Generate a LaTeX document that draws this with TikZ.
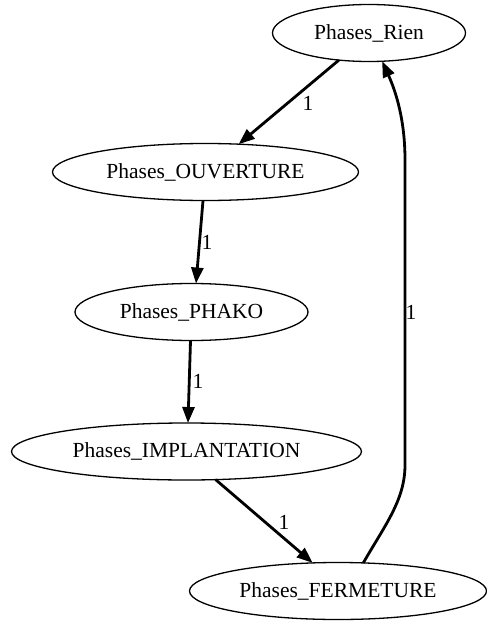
\documentclass[tikz,border=0pt]{standalone}
\usepackage{fontspec}
\setmainfont{Liberation Serif}
\usetikzlibrary{shapes.geometric,arrows.meta}
\begin{document}
\begin{tikzpicture}[x=1pt,y=-1pt,
  state/.style={ellipse,draw,line width=1.3pt,inner sep=0pt,outer sep=0pt,minimum height=57pt,font=\fontsize{21.5}{26}\selectfont},
  edge/.style={line width=2.8pt,-{Triangle[length=16pt,width=12pt]}},
  elabel/.style={font=\fontsize{21.5}{26}\selectfont,inner sep=0pt}]
\useasboundingbox (0,0) rectangle (487,621);
\node[state,minimum width=193pt] (rien) at (369,33) {Phases\_Rien};
\node[state,minimum width=306pt] (ouv) at (205.5,172) {Phases\_OUVERTURE};
\node[state,minimum width=233pt] (phako) at (191.5,312) {Phases\_PHAKO};
\node[state,minimum width=350pt] (impl) at (186.5,451.5) {Phases\_IMPLANTATION};
\node[state,minimum width=297pt] (ferm) at (338,591) {Phases\_FERMETURE};
\draw[edge] (rien.222) -- (ouv.40);
\draw[edge] (ouv.265) -- (phako.81);
\draw[edge] (phako.268) -- (impl.87);
\draw[edge] (impl.316) -- (ferm.132);
\coordinate (c1) at (405,465);
\coordinate (c2) at (405,160);
\draw[edge] (ferm.48) .. controls (385,525) and (405,500) .. (c1) -- (c2) .. controls (405,120) and (396,92) .. (rien.295);
\node[elabel] (l1) at (308,103) {1};
\node[elabel] (l2) at (207,242) {1};
\node[elabel] (l3) at (198,381) {1};
\node[elabel] (l4) at (284,522) {1};
\node[elabel] (l5) at (411,312) {1};
\end{tikzpicture}
\end{document}
